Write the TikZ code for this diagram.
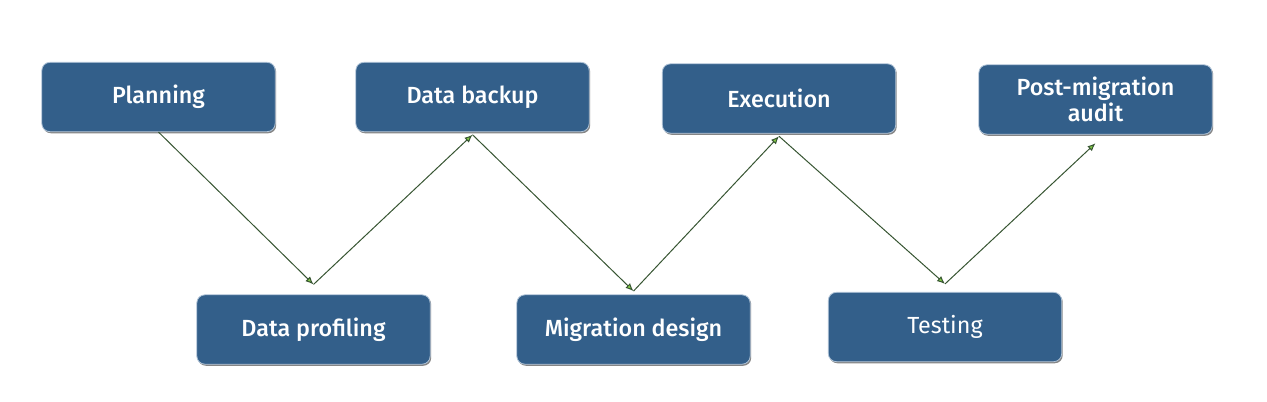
\documentclass[tikz,border=0pt]{standalone}
\usepackage{fontspec}
\setmainfont{Fira Sans}[BoldFont={Fira Sans Medium}]
\usetikzlibrary{arrows.meta,shadows}
\definecolor{boxblue}{RGB}{51,95,138}
\definecolor{boxedge}{RGB}{175,195,215}
\definecolor{linegreen}{RGB}{55,85,50}
\definecolor{tipgreen}{RGB}{130,200,70}

\begin{document}
\begin{tikzpicture}[x=0.75pt,y=-0.75pt,
  stage/.style={draw=boxedge, line width=0.6pt, fill=boxblue, rounded corners=6pt,
    minimum width=175pt, minimum height=52pt, text=white, align=center,
    font=\bfseries\fontsize{17.5}{20}\selectfont, inner sep=2pt,
    drop shadow={shadow xshift=0.8pt, shadow yshift=-1.2pt, fill=black!60, opacity=0.8}},
  flow/.style={draw=linegreen, line width=0.75pt, -{Latex[length=6pt,width=5pt,fill=tipgreen]}}]
\useasboundingbox (0,0) rectangle (1267,401);
% stages, top row and bottom row
\foreach \n/\x/\y/\t in {plan/158.5/97/Planning, backup/472.5/97/Data backup,
    exec/779/98.5/Execution, audit/1095.5/99.5/{Post-migration\\audit},
    prof/313.5/329.5/Data profiling, design/633.5/329.5/Migration design,
    test/945/327/{\mdseries Testing}}
  \node[stage] (\n) at (\x,\y) {\t};
% zigzag flow
\draw[flow] (plan.south) -- ([yshift=7.5pt]prof.north);
\draw[flow] ([yshift=7.5pt]prof.north) -- ([yshift=-2pt]backup.south);
\draw[flow] ([yshift=-2pt]backup.south) -- ([yshift=2.5pt]design.north);
\draw[flow] ([yshift=2.5pt]design.north) -- ([yshift=-2pt]exec.south);
\draw[flow] ([yshift=-2pt]exec.south) -- ([yshift=6pt]test.north);
\draw[flow] ([yshift=6pt]test.north) -- ([yshift=-6.5pt]audit.south);
\end{tikzpicture}
\end{document}
